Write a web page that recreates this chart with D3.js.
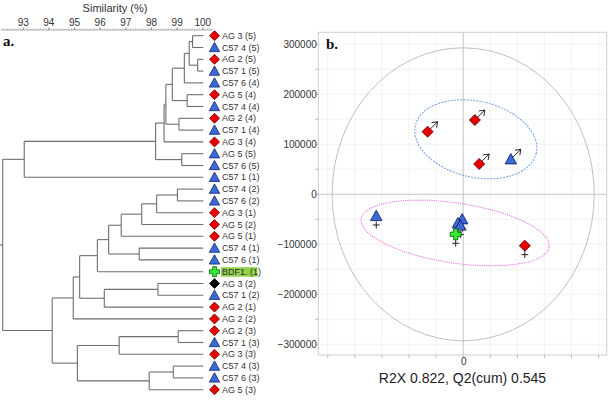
<!DOCTYPE html>
<html><head><meta charset="utf-8">
<script src="https://cdn.jsdelivr.net/npm/d3@7/dist/d3.min.js"></script>
<style>
html,body{margin:0;padding:0;background:#fff;}
svg{display:block;font-family:"Liberation Sans",Arial,sans-serif;}
</style></head>
<body>
<svg id="chart" width="611" height="400"></svg>
<script>
// ---------- DATA: dendrogram (panel a) ----------
const leafLabels = ["AG 3 (5)","C57 4 (5)","AG 2 (5)","C57 1 (5)","C57 6 (4)","AG 5 (4)","C57 4 (4)","AG 2 (4)","C57 1 (4)","AG 3 (4)",
  "AG 5 (5)","C57 6 (5)","C57 1 (1)","C57 4 (2)","C57 6 (2)","AG 3 (1)","AG 5 (2)","AG 5 (1)","C57 4 (1)","C57 6 (1)",
  "BDF1. (1)","AG 3 (2)","C57 1 (2)","AG 2 (1)","AG 2 (2)","AG 2 (3)","C57 1 (3)","AG 3 (3)","C57 4 (3)","C57 6 (3)","AG 5 (3)"];
const leafTypes = ["AG","C57","AG","C57","C57","AG","C57","AG","C57","AG",
  "C57","C57","C57","C57","C57","AG","AG","AG","C57","C57",
  "BDF1","AGblack","C57","AG","AG","AG","C57","AG","C57","C57","AG"];
// merges: [child, child, similarity %]; number = leaf index, "m<k>" = k-th merge
const merges = [
  [0,1,99.62], [2,3,99.82], ["m0","m1",99.49], ["m2",4,99.30], [5,6,99.41],
  ["m3","m4",98.83], [7,8,99.09], ["m5","m6",98.58], ["m7",9,98.51], [10,11,99.20],
  ["m8","m9",98.18], ["m10",12,93.06], [13,14,99.03], ["m12",15,98.22], ["m13",16,97.64],
  ["m14",17,96.84], [18,19,97.54], ["m15","m16",96.35], ["m17",20,95.91], [21,22,98.27],
  ["m19",23,96.18], ["m18","m20",95.22], ["m21",24,94.97], [25,26,99.06], ["m23",27,96.76],
  [28,29,98.87], ["m25",30,97.93], ["m24","m26",95.13], ["m22","m27",94.15], ["m11","m28",92.22]
];
const simTicks = [93,94,95,96,97,98,99,100];

// ---------- DATA: score plot (panel b) ----------
const pointX = [-65700, 21600, 29500, 88000, -160500, -1850, -9800, -5200, -13800, 113800];
const pointY = [125200, 148600, 60600, 70000, -43400, -50000, -58000, -62400, -80000, -102800];
const pointType = ["AG","AG","AG","C57","C57","C57","C57","C57","BDF1","AG"];
const pointMark = ["arrow","arrow","arrow","arrow","plus","plus","plus","plus","plus","plus"];
const yTicks = [-300000,-200000,-100000,0,100000,200000,300000];
const xTickLabels = [0];
const groupEllipseX = [23300, -14800];
const groupEllipseY = [110000, -77400];
const t2Radii = [242000, 293000];
const plotTitle = "R2X 0.822, Q2(cum) 0.545";

// ---------- styles ----------
const COL = {
  AG:{fill:"#e60000",stroke:"#6a0000"},
  AGblack:{fill:"#000",stroke:"#000"},
  C57:{fill:"#3a6ad8",stroke:"#15246a"},
  BDF1:{fill:"#33ee33",stroke:"#0b650b"}
};
const svg = d3.select("#chart");

function markerPath(type, s){
  if(type==="C57"){
    const w=5.2*s, h1=5.2*s, h2=4.2*s;
    return `M0,${-h1}L${w},${h2}L${-w},${h2}Z`;
  }
  if(type==="BDF1"){
    const a=1.9*s, b=5*s;
    return `M${-a},${-b}L${a},${-b}L${a},${-a}L${b},${-a}L${b},${a}L${a},${a}L${a},${b}L${-a},${b}L${-a},${a}L${-b},${a}L${-b},${-a}L${-a},${-a}Z`;
  }
  const d=5*s;
  return `M0,${-d}L${d},0L0,${d}L${-d},0Z`;
}

// ================= PANEL A: dendrogram =================
const xSim = d3.scaleLinear().domain([93,100]).range([22.7,202.3]);
const yLeaf = d3.scalePoint().domain(d3.range(leafLabels.length)).range([35.7,389.7]);

const nodes = merges.map((m,i)=>({id:"m"+i, sim:m[2], kids:[m[0],m[1]]}));
function resolve(c){ return typeof c==="number" ? {leaf:c, sim:100} : nodes[+c.slice(1)]; }
nodes.forEach(n=>{ n.children = n.kids.map(resolve); });
const root = d3.hierarchy(nodes[nodes.length-1], d=>d.children);
root.eachAfter(d=>{
  d.px = xSim(d.data.sim);
  d.py = d.children ? d3.mean(d.children, c=>c.py) : yLeaf(d.data.leaf);
});

const gA = svg.append("g");
const lineCol = "#6e6e6e";
root.each(d=>{
  if(!d.children) return;
  const ys = d.children.map(c=>c.py);
  gA.append("line").attr("x1",d.px).attr("x2",d.px).attr("y1",d3.min(ys)).attr("y2",d3.max(ys))
    .attr("stroke",lineCol).attr("stroke-width",1.1);
  d.children.forEach(c=>{
    gA.append("line").attr("x1",d.px).attr("x2",c.children?c.px:c.px+1).attr("y1",c.py).attr("y2",c.py)
      .attr("stroke",lineCol).attr("stroke-width",1.1);
  });
});
gA.append("line").attr("x1",0).attr("x2",root.px).attr("y1",root.py).attr("y2",root.py)
  .attr("stroke",lineCol).attr("stroke-width",1.1);

const leaves = root.leaves();
leaves.forEach(l=>{
  const i=l.data.leaf, t=leafTypes[i], c=COL[t];
  const y=l.py;
  if(t==="BDF1"){
    gA.append("rect").attr("x",221).attr("y",y-4.5).attr("width",36.5).attr("height",9.5)
      .attr("fill","#8fd14a");
  }
  gA.append("path").attr("d",markerPath(t,1)).attr("transform",`translate(214.5,${y})`)
    .attr("fill",c.fill).attr("stroke",c.stroke).attr("stroke-width",0.8);
  gA.append("text").attr("x",222).attr("y",y).attr("dy","0.35em")
    .attr("font-size",9).attr("fill","#333").text(leafLabels[i]);
});

// similarity axis
const axA = gA.append("g").attr("transform","translate(0,30)");
axA.append("line").attr("x1",xSim(92.15)).attr("x2",xSim(100.4)).attr("y1",0).attr("y2",0)
  .attr("stroke","#999").attr("stroke-width",0.8);
d3.range(921,1005).map(v=>v/10).forEach(v=>{
  axA.append("line").attr("x1",xSim(v)).attr("x2",xSim(v)).attr("y1",0).attr("y2",-1.5)
    .attr("stroke","#999").attr("stroke-width",0.6);
});
const axisTop = d3.axisTop(xSim).tickValues(simTicks).tickSize(2.5).tickPadding(2).tickFormat(d3.format("d"));
axA.append("g").call(axisTop).call(g=>{
  g.select(".domain").remove();
  g.selectAll(".tick line").attr("stroke","#888");
  g.selectAll("text").attr("font-size",10).attr("fill","#333").attr("font-family","Liberation Sans, Arial, sans-serif");
});
gA.append("text").attr("x",115).attr("y",11.5).attr("text-anchor","middle").attr("font-size",11)
  .attr("fill","#333").text("Similarity (%)");
gA.append("text").attr("x",3).attr("y",46).attr("font-size",15).attr("font-weight","bold")
  .attr("font-family","Liberation Serif, Times New Roman, serif").attr("fill","#111").text("a.");

// ================= PANEL B: score plot =================
const xS = d3.scaleLinear().domain([-267500,265000]).range([318.3,606.7]);
const yS = d3.scaleLinear().domain([-321500,324000]).range([355,32.3]);
const gB = svg.append("g");
const [x0,x1] = xS.range(), [y0b,y1t] = yS.range();

const gridX = d3.range(-250000,250001,50000);
const gridY = d3.range(-300000,300001,50000);
gB.selectAll(".gx").data(gridX).join("line").attr("x1",d=>xS(d)).attr("x2",d=>xS(d))
  .attr("y1",y1t).attr("y2",y0b).attr("stroke","#efefef").attr("stroke-width",0.8);
gB.selectAll(".gy").data(gridY).join("line").attr("x1",x0).attr("x2",x1)
  .attr("y1",d=>yS(d)).attr("y2",d=>yS(d)).attr("stroke","#efefef").attr("stroke-width",0.8);
gB.append("line").attr("x1",xS(0)).attr("x2",xS(0)).attr("y1",y1t).attr("y2",y0b).attr("stroke","#c4c4c4").attr("stroke-width",0.9);
gB.append("line").attr("x1",x0).attr("x2",x1).attr("y1",yS(0)).attr("y2",yS(0)).attr("stroke","#c4c4c4").attr("stroke-width",0.9);
gB.append("rect").attr("x",x0).attr("y",y1t).attr("width",x1-x0).attr("height",y0b-y1t)
  .attr("fill","none").attr("stroke","#cfcfcf").attr("stroke-width",1);
gB.selectAll(".tx").data(gridX).join("line").attr("x1",d=>xS(d)).attr("x2",d=>xS(d))
  .attr("y1",y0b).attr("y2",y0b+3).attr("stroke","#bbb");
gB.selectAll(".ty").data(gridY).join("line").attr("x1",x0-3).attr("x2",x0)
  .attr("y1",d=>yS(d)).attr("y2",d=>yS(d)).attr("stroke","#bbb");
const yAx = d3.axisLeft(yS).tickValues(yTicks).tickSize(0).tickPadding(0).tickFormat(d3.format("d"));
gB.append("g").attr("transform",`translate(${x0-1.5},0)`).call(yAx).call(g=>{
  g.select(".domain").remove();
  g.selectAll("text").attr("font-size",10).attr("fill","#333").attr("font-family","Liberation Sans, Arial, sans-serif");
});
const xAx = d3.axisBottom(xS).tickValues(xTickLabels).tickSize(0).tickPadding(0).tickFormat(d3.format("d"));
gB.append("g").attr("transform",`translate(0,${y0b+3})`).call(xAx).call(g=>{
  g.select(".domain").remove();
  g.selectAll("text").attr("font-size",10).attr("fill","#333").attr("font-family","Liberation Sans, Arial, sans-serif");
});

gB.append("ellipse").attr("cx",xS(0)).attr("cy",yS(0))
  .attr("rx",xS(t2Radii[0])-xS(0)).attr("ry",yS(0)-yS(t2Radii[1]))
  .attr("fill","none").attr("stroke","#b8b8b8").attr("stroke-width",0.9);

const ellStyle = [
  {rx:62, ry:38, rot:13, stroke:"#6f9be0", dash:"2,1.2"},
  {rx:95, ry:30, rot:8.5, stroke:"#ea6ee6", dash:"1.2,1"}
];
groupEllipseX.forEach((ex,i)=>{
  const s=ellStyle[i];
  gB.append("ellipse").attr("cx",0).attr("cy",0).attr("rx",s.rx).attr("ry",s.ry)
    .attr("transform",`translate(${xS(ex)},${yS(groupEllipseY[i])}) rotate(${s.rot})`)
    .attr("fill","none").attr("stroke",s.stroke).attr("stroke-width",1).attr("stroke-dasharray",s.dash);
});

const pts = pointX.map((x,i)=>({x, y:pointY[i], t:pointType[i], m:pointMark[i]}));
pts.filter(p=>p.m==="plus").forEach(p=>{
  const cx=xS(p.x), cy=yS(p.y)+9;
  gB.append("path").attr("d",`M${cx-3.5},${cy}H${cx+3.5}M${cx},${cy-3.5}V${cy+3.5}`)
    .attr("stroke","#222").attr("stroke-width",1);
});
pts.filter(p=>p.m==="arrow").forEach(p=>{
  const cx=xS(p.x), cy=yS(p.y);
  const tx=cx+10, ty=cy-10;
  gB.append("path").attr("d",`M${cx+2},${cy-2}L${tx},${ty}M${tx-6},${ty+1}L${tx},${ty}L${tx-1},${ty+6}`)
    .attr("fill","none").attr("stroke","#111").attr("stroke-width",0.9);
});
pts.forEach(p=>{
  const c=COL[p.t];
  gB.append("path").attr("d",markerPath(p.t,1.1)).attr("transform",`translate(${xS(p.x)},${yS(p.y)})`)
    .attr("fill",c.fill).attr("stroke",c.stroke).attr("stroke-width",0.9);
});

gB.append("text").attr("x",(x0+x1)/2).attr("y",383).attr("text-anchor","middle")
  .attr("font-size",14).attr("fill","#222").text(plotTitle);
gB.append("text").attr("x",326).attr("y",48.5).attr("font-size",15).attr("font-weight","bold")
  .attr("font-family","Liberation Serif, Times New Roman, serif").attr("fill","#111").text("b.");
</script>
</body></html>
